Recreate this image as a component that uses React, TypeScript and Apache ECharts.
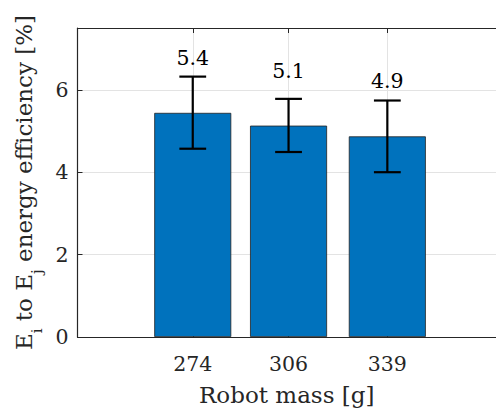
import React, { useEffect, useRef } from "react";
import * as echarts from "echarts";

// Robot mass [g] for each configuration
const masses = [274, 306, 339];
// Mean E_i to E_j energy efficiency [%]
const efficiency = [5.44, 5.13, 4.87];
// Error bar bounds [%]
const errLow = [4.57, 4.49, 4.0];
const errHigh = [6.32, 5.78, 5.74];
// Y tick positions
const yTicks = [0, 2, 4, 6];

const FONT = "DejaVu Serif, serif";
const AXIS_COLOR = "#262626";

export default function App() {
  const ref = useRef<HTMLDivElement>(null);

  useEffect(() => {
    if (!ref.current) return;
    const chart = echarts.init(ref.current, null, { renderer: "svg" });

    const barData = masses.map((m, i) => [m, efficiency[i]]);
    const errData = masses.map((m, i) => [m, errLow[i], errHigh[i], efficiency[i]]);

    const option: echarts.EChartsOption = {
      animation: false,
      backgroundColor: "#ffffff",
      textStyle: { fontFamily: FONT },
      grid: { left: 77.5, top: 28, right: 0, bottom: 77, containLabel: false },
      xAxis: [
        {
          type: "value",
          min: 235.5,
          max: 375.3,
          name: "Robot mass [g]",
          nameLocation: "middle",
          nameGap: 46,
          nameTextStyle: { fontFamily: FONT, fontSize: 23, color: AXIS_COLOR },
          axisLine: { show: true, onZero: false, lineStyle: { color: AXIS_COLOR, width: 1.2 } },
          axisTick: { show: true, inside: true, length: 5, customValues: masses, lineStyle: { color: AXIS_COLOR } },
          axisLabel: {
            customValues: masses,
            fontFamily: FONT,
            fontSize: 20.5,
            color: AXIS_COLOR,
            margin: 16,
          },
          splitLine: { show: true, lineStyle: { color: "#e3e3e3", width: 1 } },
        },
        {
          type: "value",
          position: "top",
          min: 235.5,
          max: 375.3,
          axisLine: { show: true, onZero: false, lineStyle: { color: AXIS_COLOR, width: 1.2 } },
          axisTick: { show: true, inside: true, length: 5, customValues: masses, lineStyle: { color: AXIS_COLOR } },
          axisLabel: { show: false },
          splitLine: { show: false },
        },
      ],
      yAxis: {
        type: "value",
        min: 0,
        max: 7.5,
        interval: 2,
        name: "{m|E}{s|i}{m| to E}{s|j}{m| energy efficiency [%]}",
        nameLocation: "middle",
        nameGap: 40,
        nameTextStyle: {
          fontFamily: FONT,
          fontSize: 23,
          color: AXIS_COLOR,
          rich: {
            m: { fontFamily: FONT, fontSize: 23, lineHeight: 23, color: AXIS_COLOR, verticalAlign: "top" },
            s: {
              fontFamily: FONT,
              fontSize: 15,
              lineHeight: 15,
              color: AXIS_COLOR,
              verticalAlign: "top",
              padding: [17, 0, 0, 0],
            },
          },
        },
        axisLine: { show: true, lineStyle: { color: AXIS_COLOR, width: 1.2 } },
        axisTick: { show: true, inside: true, length: 5, customValues: yTicks, lineStyle: { color: AXIS_COLOR } },
        axisLabel: {
          customValues: yTicks,
          fontFamily: FONT,
          fontSize: 20.5,
          color: AXIS_COLOR,
          margin: 9,
        },
        splitLine: { show: true, lineStyle: { color: "#e3e3e3", width: 1 } },
      },
      series: [
        {
          type: "bar",
          xAxisIndex: 0,
          data: barData,
          barWidth: 77,
          itemStyle: { color: "#0072BD", borderColor: "#222222", borderWidth: 0.8 },
          z: 2,
        },
        {
          type: "custom",
          xAxisIndex: 0,
          data: errData,
          encode: { x: 0, y: [1, 2, 3] },
          z: 3,
          renderItem: (params: any, api: any) => {
            const x = api.value(0);
            const lo = api.coord([x, api.value(1)]);
            const hi = api.coord([x, api.value(2)]);
            const top = api.coord([x, api.value(3)]);
            const half = 13.4;
            const ls = { stroke: "#000000", lineWidth: 2.2 };
            return {
              type: "group",
              children: [
                { type: "line", shape: { x1: lo[0], y1: lo[1], x2: hi[0], y2: hi[1] }, style: ls },
                { type: "line", shape: { x1: hi[0] - half, y1: hi[1], x2: hi[0] + half, y2: hi[1] }, style: ls },
                { type: "line", shape: { x1: lo[0] - half, y1: lo[1], x2: lo[0] + half, y2: lo[1] }, style: ls },
                {
                  type: "text",
                  style: {
                    x: top[0],
                    y: top[1] - 55,
                    text: api.value(3).toFixed(1),
                    fill: "#000000",
                    fontFamily: FONT,
                    fontSize: 20.5,
                    align: "center",
                    verticalAlign: "middle",
                  },
                },
              ],
            };
          },
        },
      ],
    };

    chart.setOption(option);
    return () => chart.dispose();
  }, []);

  return (
    <div
      ref={ref}
      style={{ position: "fixed", left: 0, top: 0, width: 496, height: 414, background: "#ffffff" }}
    />
  );
}
